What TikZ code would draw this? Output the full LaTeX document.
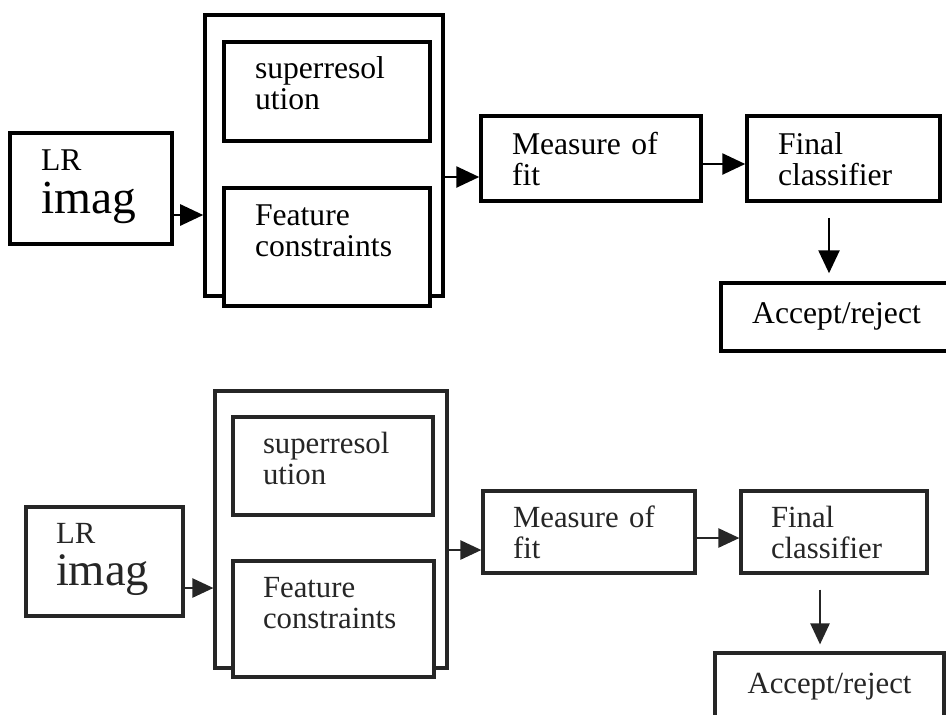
\documentclass[tikz,border=0pt]{standalone}
\usepackage{fontspec}
\setmainfont{Liberation Serif}
\usepackage{tikz}
\usetikzlibrary{arrows.meta}
\tikzstyle{block} = [rectangle, sharp corners, draw, align=left, fill=white,
                     inner sep=0pt, text height=0.74cm]
\tikzstyle{frame} = [rectangle, sharp corners, draw, inner sep=0pt]
\tikzstyle{arrow} = [-{Triangle[length=0.46cm,width=0.42cm]}, line width=1.5pt]
\tikzstyle{arrow2} = [-{Triangle[length=0.42cm,width=0.38cm]}, line width=1.4pt]

\begin{document}
\begin{tikzpicture}[line width=2pt, font=\fontsize{18}{18}\selectfont]
\useasboundingbox (0,0) rectangle (18.92,-14.28);
\clip (0,0) rectangle (18.92,-14.28);

%Top copy
\node[frame, minimum width=4.76cm, minimum height=5.62cm] at (6.48,-3.11) (outer1) {};
\node[block, minimum width=3.24cm, minimum height=2.22cm, text width=2.00cm, text depth=1.48cm] at (1.82,-3.77) (lr1) {LR\\{\fontsize{27}{24.5}\selectfont imag\par}};
\node[block, minimum width=4.12cm, minimum height=1.98cm, text width=2.88cm, text height=0.72cm, text depth=1.26cm] at (6.54,-1.83) (sr1) {superresol\\ution};
\node[block, minimum width=4.12cm, minimum height=2.36cm, text width=2.88cm, text depth=1.62cm] at (6.54,-4.94) (feat1) {Feature\\constraints};
\node[block, minimum width=4.40cm, minimum height=1.70cm, text width=3.16cm, text height=0.76cm, text depth=0.94cm] at (11.82,-3.17) (fit1) {Measure of\\fit};
\node[block, minimum width=3.86cm, minimum height=1.70cm, text width=2.62cm, text height=0.76cm, text depth=0.94cm] at (16.87,-3.17) (cls1) {Final\\classifier};
\node[block, align=center, minimum width=4.62cm, minimum height=1.36cm, text width=3.82cm, text height=0.80cm, text depth=0.56cm] at (16.73,-6.34) (acc1) {Accept/reject};

\coordinate (in1) at ([yshift=-0.53cm]lr1.east);
\coordinate (out1) at ([yshift=-0.37cm]fit1.west);
\coordinate (down1) at ([xshift=-0.29cm]cls1.south);
\draw[arrow] (in1) -- (in1 -| outer1.west);
\draw[arrow] (out1 -| outer1.east) -- (out1);
\draw[arrow] ([yshift=-0.11cm]fit1.east) -- ([yshift=-0.11cm]cls1.west);
\draw[arrow, shorten <=0.30cm, shorten >=0.16cm] (down1) -- (down1 |- acc1.north);

%Bottom copy
\begin{scope}[color=black!85, line width=1.8pt, font=\fontsize{17.5}{18}\selectfont]
\node[frame, minimum width=4.64cm, minimum height=5.54cm] at (6.62,-10.59) (outer2) {};
\node[block, minimum width=3.14cm, minimum height=2.18cm, text width=1.94cm, text height=0.72cm, text depth=1.46cm] at (2.09,-11.23) (lr2) {LR\\{\fontsize{26.5}{24}\selectfont imag\par}};
\node[block, minimum width=4.00cm, minimum height=1.96cm, text width=2.80cm, text height=0.72cm, text depth=1.24cm] at (6.66,-9.32) (sr2) {superresol\\ution};
\node[block, minimum width=4.02cm, minimum height=2.32cm, text width=2.82cm, text height=0.72cm, text depth=1.60cm] at (6.67,-12.38) (feat2) {Feature\\constraints};
\node[block, minimum width=4.24cm, minimum height=1.64cm, text width=3.04cm, text height=0.72cm, text depth=0.92cm] at (11.78,-10.64) (fit2) {Measure of\\fit};
\node[block, minimum width=3.72cm, minimum height=1.64cm, text width=2.52cm, text height=0.72cm, text depth=0.92cm] at (16.68,-10.64) (cls2) {Final\\classifier};
\node[block, align=center, minimum width=4.58cm, minimum height=1.36cm, text width=3.78cm, text height=0.80cm, text depth=0.56cm] at (16.59,-13.74) (acc2) {Accept/reject};

\coordinate (in2) at ([yshift=-0.53cm]lr2.east);
\coordinate (out2) at ([yshift=-0.36cm]fit2.west);
\coordinate (down2) at ([xshift=-0.28cm]cls2.south);
\draw[arrow2] (in2) -- (in2 -| outer2.west);
\draw[arrow2] (out2 -| outer2.east) -- (out2);
\draw[arrow2] ([yshift=-0.12cm]fit2.east) -- ([yshift=-0.12cm]cls2.west);
\draw[arrow2, shorten <=0.30cm, shorten >=0.14cm] (down2) -- (down2 |- acc2.north);
\end{scope}
\end{tikzpicture}
\end{document}
